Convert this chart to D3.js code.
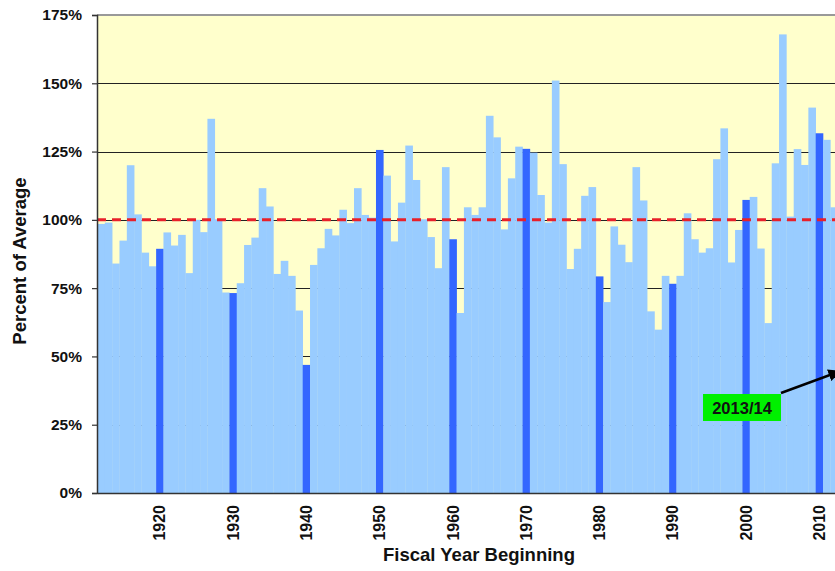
<!DOCTYPE html>
<html>
<head>
<meta charset="utf-8">
<script src="https://d3js.org/d3.v7.min.js"></script>
<style>
  body { margin: 0; background: #fff; }
  text { font-family: "Liberation Sans", Arial, sans-serif; font-weight: bold; fill: #111; }
</style>
</head>
<body>
<svg id="chart"></svg>
<script>
// fiscal years shown (category axis)
let years = d3.range(1912, 2014);

// percent of average, one value per year
let percentOfAverage = [
    98.5, 99, 84, 92.4, 120, 102, 88, 83,                 // 1912-1919
    89.4, 95.4, 90.6, 94.5, 80.5, 100, 95.5, 137, 100.2, 73.4,   // 1920s
    73.2, 76.8, 90.8, 93.5, 111.6, 104.9, 80.2, 85, 79.5, 66.8,  // 1930s
    46.9, 83.5, 89.6, 96.7, 94.3, 103.7, 98.8, 111.6, 101.8, 100.8, // 1940s
    125.6, 116.2, 92.1, 106.3, 127.2, 114.6, 100.2, 93.7, 82.3, 119.3, // 1950s
    92.9, 65.9, 104.6, 101.8, 104.6, 138.1, 130.2, 96.5, 115.2, 126.8, // 1960s
    126, 124.6, 109.1, 99, 151, 120.4, 82, 89.4, 108.8, 112,     // 1970s
    79.3, 69.9, 97.6, 90.9, 84.5, 119.3, 107.1, 66.5, 59.8, 79.5, // 1980s
    76.6, 79.5, 102.4, 92.9, 88, 89.6, 122.2, 133.5, 84.4, 96.3, // 1990s
    107.3, 108.4, 89.5, 62.2, 120.7, 167.9, 101.2, 125.9, 120.1, 141.1, // 2000s
    131.7, 129.3, 104.6, 46                                        // 2010-2013
];

let decadeYears = [1920, 1930, 1940, 1950, 1960, 1970, 1980, 1990, 2000, 2010];
let yTicks = [0, 25, 50, 75, 100, 125, 150, 175];
let averageLevel = 100;
let noteYear = 2013;
let noteLabel = "2013/14";

function createChart() {
    let w = 835, h = 571;
    let left = 97, top = 15, bottom = 493, right = 845;

    let svg = d3.select("#chart")
        .attr("width", w)
        .attr("height", h);

    let x = d3.scaleBand()
        .domain(years)
        .range([left + 0.5, right])
        .padding(0);

    let y = d3.scaleLinear()
        .domain([0, 175])
        .range([bottom, top]);

    // plot background
    svg.append("rect")
        .attr("x", left)
        .attr("y", top)
        .attr("width", right - left)
        .attr("height", bottom - top)
        .attr("fill", "#FFFFCC");

    // gridlines
    svg.append("g")
        .selectAll("line")
        .data(yTicks.filter(d => d > 0 && d < 175))
        .enter().append("line")
          .attr("x1", left)
          .attr("x2", right)
          .attr("y1", d => Math.round(y(d)) + 0.5)
          .attr("y2", d => Math.round(y(d)) + 0.5)
          .attr("stroke", "#222")
          .attr("stroke-width", 1.2);

    svg.append("line")
        .attr("x1", left)
        .attr("x2", right)
        .attr("y1", y(175))
        .attr("y2", y(175))
        .attr("stroke", "#999")
        .attr("stroke-width", 2);

    let data = years.map((yr, i) => ({year: yr, value: percentOfAverage[i]}));

    svg.append("g")
        .selectAll("rect")
        .data(data)
        .enter().append("rect")
          .attr("x", d => x(d.year))
          .attr("y", d => y(d.value))
          .attr("width", x.bandwidth() + 0.3)
          .attr("height", d => y(0) - y(d.value))
          .attr("fill", d => decadeYears.includes(d.year) ? "#3366FF" : "#99CCFF");

    // average line
    svg.append("line")
        .attr("x1", left)
        .attr("x2", right)
        .attr("y1", y(averageLevel))
        .attr("y2", y(averageLevel))
        .attr("stroke", "#E8202A")
        .attr("stroke-width", 3)
        .attr("stroke-dasharray", "9,6");

    // y axis
    let yAxis = d3.axisLeft(y)
        .tickValues(yTicks)
        .tickSize(5)
        .tickPadding(10)
        .tickFormat(d => d + "%");

    let yg = svg.append("g")
        .attr("transform", `translate(${left},0)`)
        .call(yAxis);
    yg.select(".domain").attr("stroke", "#333").attr("stroke-width", 1.5);
    yg.selectAll(".tick line").attr("stroke", "#333").attr("stroke-width", 1.2);
    yg.selectAll("text")
        .style("font-size", "15.5px")
        .attr("fill", "#111");

    // x axis
    let xAxis = d3.axisBottom(x)
        .tickValues(decadeYears)
        .tickSize(0)
        .tickPadding(0);

    let xg = svg.append("g")
        .attr("transform", `translate(0,${bottom})`)
        .call(xAxis);
    xg.select(".domain").attr("stroke", "#333").attr("stroke-width", 1.5);
    xg.selectAll("text")
        .style("font-size", "16px")
        .attr("fill", "#111")
        .attr("text-anchor", "end")
        .attr("dy", "0.35em")
        .attr("transform", "translate(0,12) rotate(-90)")
        .attr("x", 0)
        .attr("y", 0);

    // axis titles
    svg.append("text")
        .attr("x", 479)
        .attr("y", 561)
        .attr("text-anchor", "middle")
        .style("font-size", "18.5px")
        .text("Fiscal Year Beginning");

    svg.append("text")
        .attr("transform", "translate(26,261) rotate(-90)")
        .attr("text-anchor", "middle")
        .style("font-size", "18.5px")
        .text("Percent of Average");

    // annotation
    let noteValue = percentOfAverage[years.indexOf(noteYear)];

    svg.append("defs").append("marker")
        .attr("id", "arrow")
        .attr("viewBox", "0 0 10 10")
        .attr("refX", 9)
        .attr("refY", 5)
        .attr("markerWidth", 5)
        .attr("markerHeight", 5)
        .attr("orient", "auto")
      .append("path")
        .attr("d", "M0,0 L10,5 L0,10 z")
        .attr("fill", "#000");

    svg.append("line")
        .attr("x1", 781)
        .attr("y1", 393)
        .attr("x2", x(noteYear) + 2)
        .attr("y2", y(noteValue) + 4)
        .attr("stroke", "#000")
        .attr("stroke-width", 2.5)
        .attr("marker-end", "url(#arrow)");

    svg.append("rect")
        .attr("x", 703)
        .attr("y", 394)
        .attr("width", 78)
        .attr("height", 27)
        .attr("fill", "#00F000");

    svg.append("text")
        .attr("x", 742)
        .attr("y", 414)
        .attr("text-anchor", "middle")
        .style("font-size", "16.5px")
        .text(noteLabel);
}

window.onload = function() {
    createChart();
};
</script>
</body>
</html>
